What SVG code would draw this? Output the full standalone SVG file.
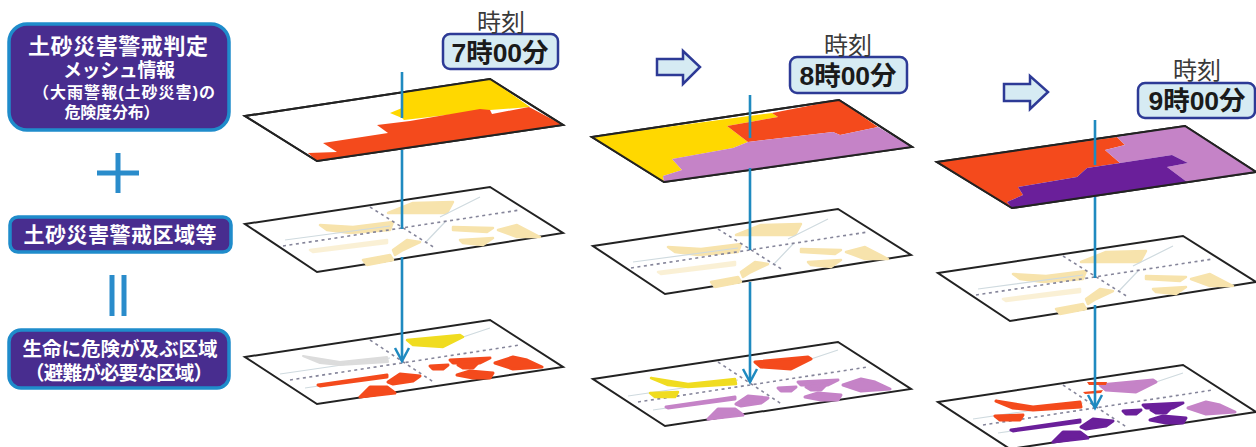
<svg xmlns="http://www.w3.org/2000/svg" xmlns:xlink="http://www.w3.org/1999/xlink" width="1256" height="447" viewBox="0 0 1256 447">
<style>
text{font-family:"Liberation Sans","Noto Sans CJK JP","Noto Sans CJK SC",sans-serif;text-anchor:middle}
.box{fill:#482d8f;stroke:#1f8ccb;stroke-width:3.5}
.w{fill:#fff;font-weight:700}
.sym{stroke:#2a8ccb;stroke-width:5;fill:none}
.plate{fill:#fff;stroke:#222;stroke-width:2;stroke-linejoin:miter}
.edge{fill:none;stroke:#222;stroke-width:2}
.time{fill:#d6ebf3;stroke:#2d3a96;stroke-width:2.5}
.tl{font-size:24px;fill:#3a3a3a;font-weight:400}
.tv{font-size:26.5px;font-weight:700;fill:#1a1a1a}
.next{fill:#d6ebf3;stroke:#2d3a96;stroke-width:2.5}
.pale{fill:#f7e3ac;stroke:#f7e3ac;stroke-width:2.5;stroke-linejoin:round}
.dash{fill:none;stroke:#85859a;stroke-width:1.6;stroke-dasharray:3 3.5}
.thin{fill:none;stroke:#cfdadf;stroke-width:1.2}
.conn{fill:none;stroke:#1f8ac0;stroke-width:2.6;marker-end:url(#vee)}
.y{fill:#ffd800}.r{fill:#f44a1c}.lp{fill:#c583c7}.dp{fill:#6a1f9a}.gr{fill:#dcdcdc}.by{fill:#f0dc20}
g.r,use.r{stroke:#f44a1c;stroke-width:3;stroke-linejoin:round}
g.lp,use.lp{stroke:#c583c7;stroke-width:3;stroke-linejoin:round}
g.dp{stroke:#6a1f9a;stroke-width:3;stroke-linejoin:round}
use.gr{stroke:#dcdcdc;stroke-width:2;stroke-linejoin:round}
use.by{stroke:#f0dc20;stroke-width:2.5;stroke-linejoin:round}
</style>
<defs>
<marker id="vee" markerUnits="userSpaceOnUse" markerWidth="18" markerHeight="18" refX="15" refY="9" orient="auto"><path d="M2 2L15 9L2 16" fill="none" stroke="#1f8ac0" stroke-width="2.5"/></marker>
<g id="mid-map">
<polygon class="plate" points="245,224 490,187 563,233 317,272"/>
<g class="pale">
<polygon points="388,213 413,203 453,202 447,213 407,213"/>
<polygon points="320,225 353,227 393,222 390,230 350,233 327,230"/>
<polygon points="453,227 493,228 487,232 453,230"/>
<polygon points="498,230 517,225 540,237 517,237"/>
<polygon points="460,240 493,238 483,245 463,243"/>
<polygon points="393,250 407,240 420,242 403,250 395,255"/>
<polygon points="363,260 390,255 393,260 367,265"/>
<polygon points="310,250 387,240 387,243 313,252" opacity=".5"/>
</g>
<path class="thin" d="M440 217L480 197M425 243L445 222M285 240L390 226"/>
<path class="dash" d="M283 246L520 210M370 207L435 248"/>
</g>
<g id="bot-lines">
<polygon class="plate" points="245,357 490,320 563,367 317,404"/>
<path class="thin" d="M463 337L490 328M280 374L390 358M305 388L388 376"/>
<path class="dash" d="M290 380L520 345M370 340L435 383"/>
</g>
<polygon id="b1" points="407,340 460,335 463,337 443,347 413,345"/>
<polygon id="b2" points="303,356 340,362 387,357 388,362 340,365 320,363"/>
<polygon id="b3" points="318,385 387,375 387,377 320,386"/>
<polygon id="b4" points="388,382 400,374 420,376 413,381 393,384"/>
<polygon id="b5" points="360,397 370,387 387,387 395,393"/>
<polygon id="b6" points="430,366 448,365 443,369 433,369"/>
<polygon id="b7" points="450,360 490,358 480,363 453,363"/>
<polygon id="b8" points="458,365 478,363 473,368 463,368"/>
<polygon id="b9" points="457,375 470,371 493,373 490,378 473,378"/>
<polygon id="b10" points="495,363 513,357 527,360 542,367 513,369"/>
<polygon id="b2s" points="302,371 330,370 327,375 307,375"/>
</defs>

<g id="legend-warning">
<rect class="box" x="9" y="24" width="220" height="106" rx="18"/>
<text class="w"><tspan x="118" y="54" font-size="22" textLength="180">土砂災害警戒判定</tspan><tspan x="119" y="77" font-size="19" textLength="112">メッシュ情報</tspan><tspan x="124" y="98" font-size="16" textLength="182">（大雨警報(土砂災害)の</tspan><tspan x="112" y="118" font-size="16" textLength="95">危険度分布）</tspan></text>
</g>
<path id="plus" class="sym" d="M97 173H139M118 153V193"/>
<g id="legend-zone">
<rect class="box" x="10" y="217" width="221" height="35" rx="8"/>
<text class="w" x="120" y="242" font-size="21" textLength="193">土砂災害警戒区域等</text>
</g>
<path id="equals" class="sym" d="M112 275V316M124 275V316"/>
<g id="legend-danger">
<rect class="box" x="9" y="330" width="220" height="58" rx="12"/>
<text class="w" font-size="19.5"><tspan x="120" y="356" textLength="195">生命に危険が及ぶ区域</tspan><tspan x="119" y="380" textLength="188">（避難が必要な区域）</tspan></text>
</g>

<g id="t7-top">
<polygon class="plate" points="245,116 490,79 563,125 317,161"/>
<polygon class="y" points="402,93 490,79 530,107 490,110 404,120 402,118 390,113 402,108"/>
<polygon class="r" points="529,107 563,125 317,161 308,153 337,152 323,143 388,133 377,125 410,121 480,109 490,110 492,114"/>
<path class="edge" d="M245 116L490 79L563 125L317 161Z"/>
</g>
<use id="t7-mid" href="#mid-map" xlink:href="#mid-map"/>
<g id="t7-bottom">
<use href="#bot-lines" xlink:href="#bot-lines"/>
<use class="by" href="#b1" xlink:href="#b1"/><use class="gr" href="#b2" xlink:href="#b2"/>
<g class="r">
<use href="#b3" xlink:href="#b3"/><use href="#b4" xlink:href="#b4"/><use href="#b5" xlink:href="#b5"/><use href="#b6" xlink:href="#b6"/><use href="#b7" xlink:href="#b7"/><use href="#b8" xlink:href="#b8"/><use href="#b9" xlink:href="#b9"/><use href="#b10" xlink:href="#b10"/>
</g>
</g>
<g id="t7-label">
<rect class="time" x="443" y="34" width="115" height="35" rx="7"/>
<text class="tv"><tspan class="tl" x="501" y="31">時刻</tspan><tspan x="500" y="62">7時00分</tspan></text>
</g>

<polygon id="next-8" class="next" points="657,59 683,59 683,51 700,67 683,84 683,75 657,75"/>
<g id="t8-top">
<polygon class="plate" points="592,137 839,100 912,147 664,182"/>
<polygon class="y" points="592,137 772,113 778,117 727,126 748,142 733,148 678,158 672,159 682,170 663,176 664,182"/>
<polygon class="r" points="772,113 839,100 878,127 840,135 833,132 748,142 727,126 778,117"/>
<polygon class="lp" points="748,142 833,132 840,135 878,127 912,147 664,182 663,176 682,170 672,159 733,148"/>
<path class="edge" d="M592 137L839 100L912 147L664 182Z"/>
</g>
<use id="t8-mid" href="#mid-map" xlink:href="#mid-map" transform="translate(348 22)"/>
<g id="t8-bottom" transform="translate(348 22)">
<use href="#bot-lines" xlink:href="#bot-lines"/>
<use class="r" href="#b1" xlink:href="#b1"/>
<use class="by" href="#b2" xlink:href="#b2"/><use class="by" href="#b2s" xlink:href="#b2s"/>
<g class="lp">
<use href="#b3" xlink:href="#b3"/><use href="#b4" xlink:href="#b4"/><use href="#b5" xlink:href="#b5"/><use href="#b6" xlink:href="#b6"/><use href="#b7" xlink:href="#b7"/><use href="#b8" xlink:href="#b8"/><use href="#b9" xlink:href="#b9"/><use href="#b10" xlink:href="#b10"/>
</g>
</g>
<g id="t8-label">
<rect class="time" x="790" y="57" width="117" height="36" rx="7"/>
<text class="tv"><tspan class="tl" x="848" y="54">時刻</tspan><tspan x="848" y="85">8時00分</tspan></text>
</g>

<polygon id="next-9" class="next" points="1004,84 1030,84 1030,76 1048,92 1030,109 1030,101 1004,101"/>
<g id="t9-top">
<polygon class="plate" points="937,162 1185,126 1256,172 1012,208"/>
<polygon class="r" points="937,162 1117,137 1125,145 1105,150 1120,163 1087,168 1077,177 1018,187 1023,195 1007,202 1012,208"/>
<polygon class="lp" points="1117,137 1185,126 1256,172 1187,182 1167,167 1188,163 1172,155 1120,163 1105,150 1125,145"/>
<polygon class="dp" points="1120,163 1172,155 1188,163 1167,167 1187,182 1012,208 1007,202 1023,195 1018,187 1077,177 1087,168"/>
<path class="edge" d="M937 162L1185 126L1256 172L1012 208Z"/>
</g>
<use id="t9-mid" href="#mid-map" xlink:href="#mid-map" transform="translate(693 49)"/>
<g id="t9-bottom" transform="translate(693 45)">
<use href="#bot-lines" xlink:href="#bot-lines"/>
<use class="lp" href="#b1" xlink:href="#b1"/>
<polygon class="r" points="394,337 414,337 413,340 396,340"/>
<polygon class="r" points="390,347 410,345 408,348 392,349"/>
<use class="r" href="#b2" xlink:href="#b2"/><use class="r" href="#b2s" xlink:href="#b2s"/>
<g class="dp">
<use href="#b3" xlink:href="#b3"/><use href="#b4" xlink:href="#b4"/><use href="#b5" xlink:href="#b5"/><use href="#b6" xlink:href="#b6"/><use href="#b7" xlink:href="#b7"/><use href="#b8" xlink:href="#b8"/><use href="#b9" xlink:href="#b9"/>
</g>
<use class="lp" href="#b10" xlink:href="#b10"/>
</g>
<g id="t9-label">
<rect class="time" x="1138" y="83" width="117" height="35" rx="7"/>
<text class="tv"><tspan class="tl" x="1197" y="79">時刻</tspan><tspan x="1197" y="110">9時00分</tspan></text>
</g>

<g id="connectors">
<path class="conn" d="M402 72V118M402 150V229M402 257V361"/>
<path class="conn" d="M750 95V138M750 168V250M750 282V382"/>
<path class="conn" d="M1095 120V165M1095 197V278M1095 305V408"/>
</g>
</svg>
